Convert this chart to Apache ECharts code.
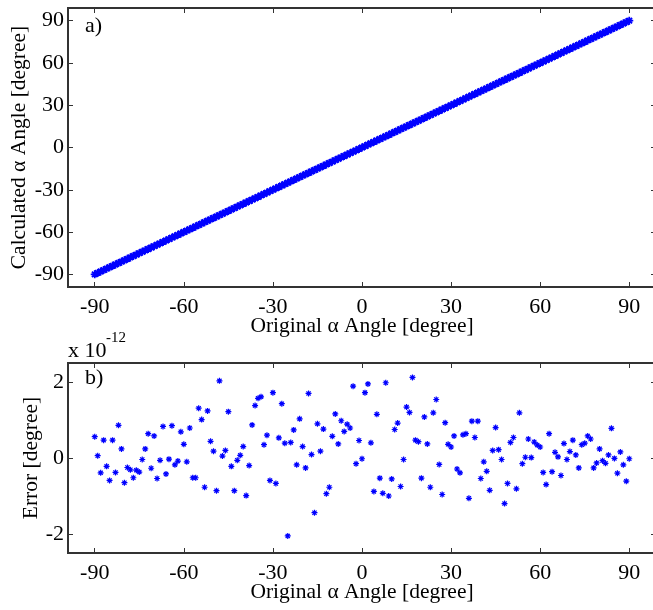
<!DOCTYPE html>
<html>
<head>
<meta charset="utf-8">
<script src="https://cdn.jsdelivr.net/npm/echarts@6/dist/echarts.min.js"></script>
<style>
html,body{margin:0;padding:0;background:#fff;}
#chart{width:653px;height:610px;}
</style>
</head>
<body>
<div id="chart"></div>
<script>
// ---- data ----
const originalAngle = [-90,-89,-88,-87,-86,-85,-84,-83,-82,-81,-80,-79,-78,-77,-76,-75,-74,-73,-72,-71,-70,-69,-68,-67,-66,-65,-64,-63,-62,-61,-60,-59,-58,-57,-56,-55,-54,-53,-52,-51,-50,-49,-48,-47,-46,-45,-44,-43,-42,-41,-40,-39,-38,-37,-36,-35,-34,-33,-32,-31,-30,-29,-28,-27,-26,-25,-24,-23,-22,-21,-20,-19,-18,-17,-16,-15,-14,-13,-12,-11,-10,-9,-8,-7,-6,-5,-4,-3,-2,-1,0,1,2,3,4,5,6,7,8,9,10,11,12,13,14,15,16,17,18,19,20,21,22,23,24,25,26,27,28,29,30,31,32,33,34,35,36,37,38,39,40,41,42,43,44,45,46,47,48,49,50,51,52,53,54,55,56,57,58,59,60,61,62,63,64,65,66,67,68,69,70,71,72,73,74,75,76,77,78,79,80,81,82,83,84,85,86,87,88,89,90];
const calculatedAngle = [-90,-89,-88,-87,-86,-85,-84,-83,-82,-81,-80,-79,-78,-77,-76,-75,-74,-73,-72,-71,-70,-69,-68,-67,-66,-65,-64,-63,-62,-61,-60,-59,-58,-57,-56,-55,-54,-53,-52,-51,-50,-49,-48,-47,-46,-45,-44,-43,-42,-41,-40,-39,-38,-37,-36,-35,-34,-33,-32,-31,-30,-29,-28,-27,-26,-25,-24,-23,-22,-21,-20,-19,-18,-17,-16,-15,-14,-13,-12,-11,-10,-9,-8,-7,-6,-5,-4,-3,-2,-1,0,1,2,3,4,5,6,7,8,9,10,11,12,13,14,15,16,17,18,19,20,21,22,23,24,25,26,27,28,29,30,31,32,33,34,35,36,37,38,39,40,41,42,43,44,45,46,47,48,49,50,51,52,53,54,55,56,57,58,59,60,61,62,63,64,65,66,67,68,69,70,71,72,73,74,75,76,77,78,79,80,81,82,83,84,85,86,87,88,89,90];
// error in units of 1e-12 degree
const errorE12 = [
 0.56, 0.06,-0.39, 0.47,-0.22,-0.59, 0.47,-0.38, 0.86, 0.24,
-0.65,-0.25,-0.31,-0.52,-0.32,-0.37,-0.04, 0.24, 0.64,-0.27,
 0.58,-0.54,-0.06, 0.83,-0.42,-0.03, 0.85,-0.18,-0.08, 0.69,
 0.36,-0.10, 0.79,-0.52,-0.52, 1.31, 1.01,-0.77, 1.24, 0.44,
 0.18,-0.86, 2.03, 0.05, 0.20, 1.22,-0.22,-0.86,-0.06, 0.07,
 0.30,-0.99,-0.20, 0.87, 1.38, 1.57, 1.61, 0.35, 0.60,-0.59,
 1.72,-0.67, 0.53, 1.43, 0.39,-2.05, 0.41, 0.74,-0.18, 1.03,
 0.30,-0.26, 1.70, 0.09,-1.44, 0.90, 0.18, 0.76,-0.94,-0.77,
 0.57, 1.16, 0.37, 0.98, 0.70, 0.89, 0.79, 1.89,-0.15, 0.46,
-0.02, 1.72, 1.95, 0.40,-0.88, 1.15,-0.53,-0.93, 1.98,-1.00,
-0.55, 0.75, 0.92,-0.75,-0.04, 1.34, 1.20, 2.12, 0.47, 0.43,
-0.53, 1.08, 0.37,-0.77, 1.19, 1.54,-0.17,-0.96, 0.93, 0.36,
 0.29, 0.58,-0.29,-0.39, 0.61, 0.64,-1.06, 0.97, 0.54, 0.97,
-0.54,-0.10,-0.35,-0.85, 0.20, 0.80, 0.22,-0.04,-1.20,-0.67,
 0.41, 0.54,-0.81, 1.19,-0.15, 0.02, 0.50, 0.01, 0.42, 0.34,
 0.29,-0.38,-0.70, 0.64,-0.36, 0.15, 0.03,-0.46, 0.38,-0.04,
 0.17, 0.47, 0.08,-0.26, 0.35, 0.39, 0.58, 0.50,-0.26,-0.13,
 0.24,-0.07,-0.14, 0.08, 0.78,-0.01,-0.40, 0.16,-0.18,-0.61,
-0.02];
const xTicks = [-90,-60,-30,0,30,60,90];
const yTicksTop = [-90,-60,-30,0,30,60,90];
const yTicksBottom = [-2,0,2];
const xTitle = 'Original \u03b1 Angle [degree]';
const yTitleTop = 'Calculated \u03b1 Angle [degree]';
const yTitleBottom = 'Error [degree]';

// ---- chart ----
const FONT = 'Liberation Serif';
const AX = '#333';
const star = 'path://M0,-4L0,4M-4,0L4,0M-2.8,-2.8L2.8,2.8M-2.8,2.8L2.8,-2.8';

function xAx(gridIndex, pos, labels) {
  return {
    type: 'value', gridIndex: gridIndex, position: pos, min: -99, max: 99,
    axisLine: {show: false, onZero: false}, splitLine: {show: false},
    axisTick: {show: true, inside: true, length: 5, customValues: xTicks, lineStyle: {color: AX, width: 1}},
    axisLabel: {show: labels, customValues: xTicks, margin: 9, fontFamily: FONT, fontSize: 22, color: '#000'},
    name: labels ? xTitle : '', nameLocation: 'middle', nameGap: 28, nameMoveOverlap: false,
    nameTextStyle: {fontFamily: FONT, fontSize: 21.5, color: '#000'}
  };
}
function yAx(gridIndex, pos, labels, min, max, ticks, title, gap) {
  return {
    type: 'value', gridIndex: gridIndex, position: pos, min: min, max: max,
    axisLine: {show: false, onZero: false}, splitLine: {show: false},
    axisTick: {show: true, inside: true, length: 5, customValues: ticks, lineStyle: {color: AX, width: 1}},
    axisLabel: {show: labels, customValues: ticks, margin: 4, fontFamily: FONT, fontSize: 22, color: '#000'},
    name: labels ? title : '', nameLocation: 'middle', nameGap: gap, nameMoveOverlap: false,
    nameTextStyle: {fontFamily: FONT, fontSize: 21.5, color: '#000'}
  };
}

const chart = echarts.init(document.getElementById('chart'), null, {renderer: 'canvas'});
chart.setOption({
  animation: false,
  backgroundColor: '#fff',
  grid: [
    {left: 68, top: 8, width: 588, height: 279, show: true, borderColor: AX, borderWidth: 2, backgroundColor: 'transparent', outerBoundsMode: 'none', containLabel: false},
    {left: 68, top: 363, width: 588, height: 190, show: true, borderColor: AX, borderWidth: 2, backgroundColor: 'transparent', outerBoundsMode: 'none', containLabel: false}
  ],
  xAxis: [
    xAx(0, 'bottom', true), xAx(0, 'top', false),
    xAx(1, 'bottom', true), xAx(1, 'top', false)
  ],
  yAxis: [
    yAx(0, 'left', true, -99, 99, yTicksTop, yTitleTop, 38),
    yAx(0, 'right', false, -99, 99, yTicksTop, '', 0),
    yAx(1, 'left', true, -2.5, 2.5, yTicksBottom, yTitleBottom, 26),
    yAx(1, 'right', false, -2.5, 2.5, yTicksBottom, '', 0)
  ],
  series: [
    {
      type: 'scatter', xAxisIndex: 0, yAxisIndex: 0,
      data: originalAngle.map((v, i) => [v, calculatedAngle[i]]),
      symbol: star, symbolSize: 8,
      itemStyle: {color: '#0000ff', borderColor: '#0000ff', borderWidth: 1.8, opacity: 1}
    },
    {
      type: 'scatter', xAxisIndex: 2, yAxisIndex: 2,
      data: originalAngle.map((v, i) => [v, errorE12[i]]),
      symbol: star, symbolSize: 6,
      itemStyle: {color: '#0000ff', borderColor: '#0000ff', borderWidth: 1.2, opacity: 1}
    }
  ],
  graphic: [
    {type: 'text', left: 85, top: 15, style: {text: 'a)', fontFamily: FONT, fontSize: 22, fill: '#000'}},
    {type: 'text', left: 85, top: 367, style: {text: 'b)', fontFamily: FONT, fontSize: 22, fill: '#000'}},
    {type: 'text', left: 68, top: 340, style: {text: 'x 10', fontFamily: FONT, fontSize: 22, fill: '#000'}},
    {type: 'text', left: 106, top: 331, style: {text: '-12', fontFamily: FONT, fontSize: 15, fill: '#000'}}
  ]
});
</script>
</body>
</html>
